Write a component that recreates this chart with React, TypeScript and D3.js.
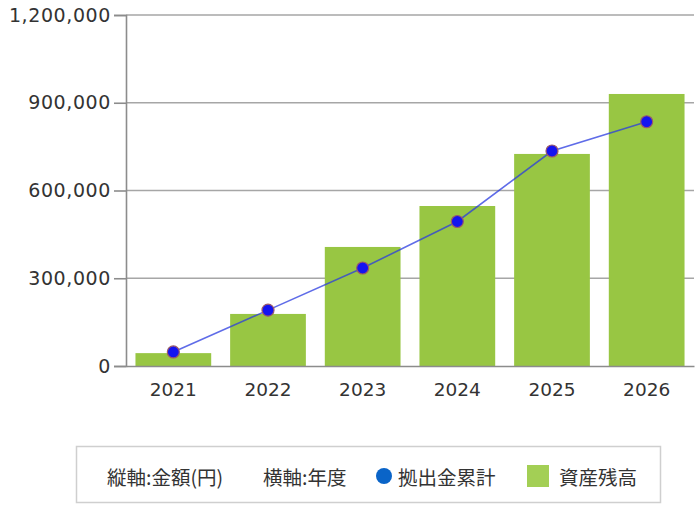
import React, { useRef, useEffect } from 'react';
import * as d3 from 'd3';

const years = ['2021', '2022', '2023', '2024', '2025', '2026'];
const assetBalance = [44000, 178000, 407000, 547000, 725000, 930000];
const contributionTotal = [48000, 191000, 335000, 494000, 735000, 835000];
const yTicks = [0, 300000, 600000, 900000, 1200000];

const legendAxisLabels = ['縦軸:金額(円)', '横軸:年度'];
const lineLabel = '拠出金累計';
const barLabel = '資産残高';

const W = 700;
const H = 506;

const App: React.FC = () => {
  const svgRef = useRef<SVGSVGElement>(null);

  useEffect(() => {
    if (!svgRef.current) return;
    const svg = d3.select(svgRef.current);
    svg.selectAll('*').remove();

    const left = 126;
    const right = 694;
    const top = 15;
    const bottom = 366;

    const x = d3.scaleBand<string>()
      .domain(years)
      .range([left, right])
      .paddingInner(0.2)
      .paddingOuter(0.1);

    const y = d3.scaleLinear()
      .domain([0, 1200000])
      .range([bottom, top]);

    // grid lines
    svg.append('g')
      .selectAll('line')
      .data(yTicks.filter(d => d > 0))
      .enter()
      .append('line')
      .attr('x1', left)
      .attr('x2', right)
      .attr('y1', d => y(d))
      .attr('y2', d => y(d))
      .attr('stroke', '#a6a6a6')
      .attr('stroke-width', 1.6);

    // bars
    svg.append('g')
      .selectAll('rect')
      .data(assetBalance)
      .enter()
      .append('rect')
      .attr('x', (_, i) => x(years[i]) as number)
      .attr('y', d => y(d))
      .attr('width', x.bandwidth())
      .attr('height', d => bottom - y(d))
      .attr('fill', '#98c643');

    // axes
    const yAxis = d3.axisLeft(y)
      .tickValues(yTicks)
      .tickSize(12)
      .tickPadding(3)
      .tickFormat(d => d3.format(',')(d as number));

    const yg = svg.append('g')
      .attr('transform', `translate(${left},0)`)
      .call(yAxis);
    yg.select('.domain').attr('stroke', '#8c8c8c').attr('stroke-width', 1.6);
    yg.selectAll('.tick line').attr('stroke', '#8c8c8c').attr('stroke-width', 1.6);
    yg.selectAll('.tick text')
      .attr('fill', '#333')
      .style('font-family', 'Verdana, "DejaVu Sans", sans-serif')
      .style('font-size', '19px')
      .style('letter-spacing', '0.6px');

    const xAxis = d3.axisBottom(x).tickSize(0).tickPadding(17);
    const xg = svg.append('g')
      .attr('transform', `translate(0,${bottom})`)
      .call(xAxis);
    xg.select('.domain').attr('stroke', '#8c8c8c').attr('stroke-width', 1.6);
    xg.selectAll('.tick text')
      .attr('fill', '#333')
      .style('font-family', 'Verdana, "DejaVu Sans", sans-serif')
      .style('font-size', '18.5px');

    // line
    const line = d3.line<number>()
      .x((_, i) => (x(years[i]) as number) + x.bandwidth() / 2)
      .y(d => y(d));

    svg.append('path')
      .datum(contributionTotal)
      .attr('d', line)
      .attr('fill', 'none')
      .attr('stroke', '#2a3be0')
      .attr('stroke-opacity', 0.75)
      .attr('stroke-width', 1.6);

    svg.append('g')
      .selectAll('circle')
      .data(contributionTotal)
      .enter()
      .append('circle')
      .attr('cx', (_, i) => (x(years[i]) as number) + x.bandwidth() / 2)
      .attr('cy', d => y(d))
      .attr('r', 6)
      .attr('fill', '#1414f0')
      .attr('stroke', '#9a5a6a')
      .attr('stroke-width', 1.2);

    // legend
    const lg = svg.append('g');
    lg.append('rect')
      .attr('x', 76.5)
      .attr('y', 446.5)
      .attr('width', 584)
      .attr('height', 56)
      .attr('fill', '#fff')
      .attr('stroke', '#cfcfcf')
      .attr('stroke-width', 1.5);

    const legendFont = '"Noto Sans CJK JP", sans-serif';
    const ly = 476;
    const addText = (lx: number, label: string) => {
      lg.append('text')
        .attr('x', lx)
        .attr('y', ly)
        .attr('dominant-baseline', 'central')
        .attr('fill', '#333')
        .style('font-family', legendFont)
        .style('font-size', '19.5px')
        .text(label);
    };
    addText(107, legendAxisLabels[0]);
    addText(263, legendAxisLabels[1]);

    lg.append('circle')
      .attr('cx', 384)
      .attr('cy', ly)
      .attr('r', 8)
      .attr('fill', '#0a64c8');
    addText(398, lineLabel);

    lg.append('rect')
      .attr('x', 527)
      .attr('y', ly - 11)
      .attr('width', 22)
      .attr('height', 22)
      .attr('fill', '#a3cf55');
    addText(559, barLabel);
  }, []);

  return (
    <svg
      ref={svgRef}
      width={W}
      height={H}
      style={{ position: 'absolute', left: 0, top: 0, background: '#fff' }}
    />
  );
};

export default App;
